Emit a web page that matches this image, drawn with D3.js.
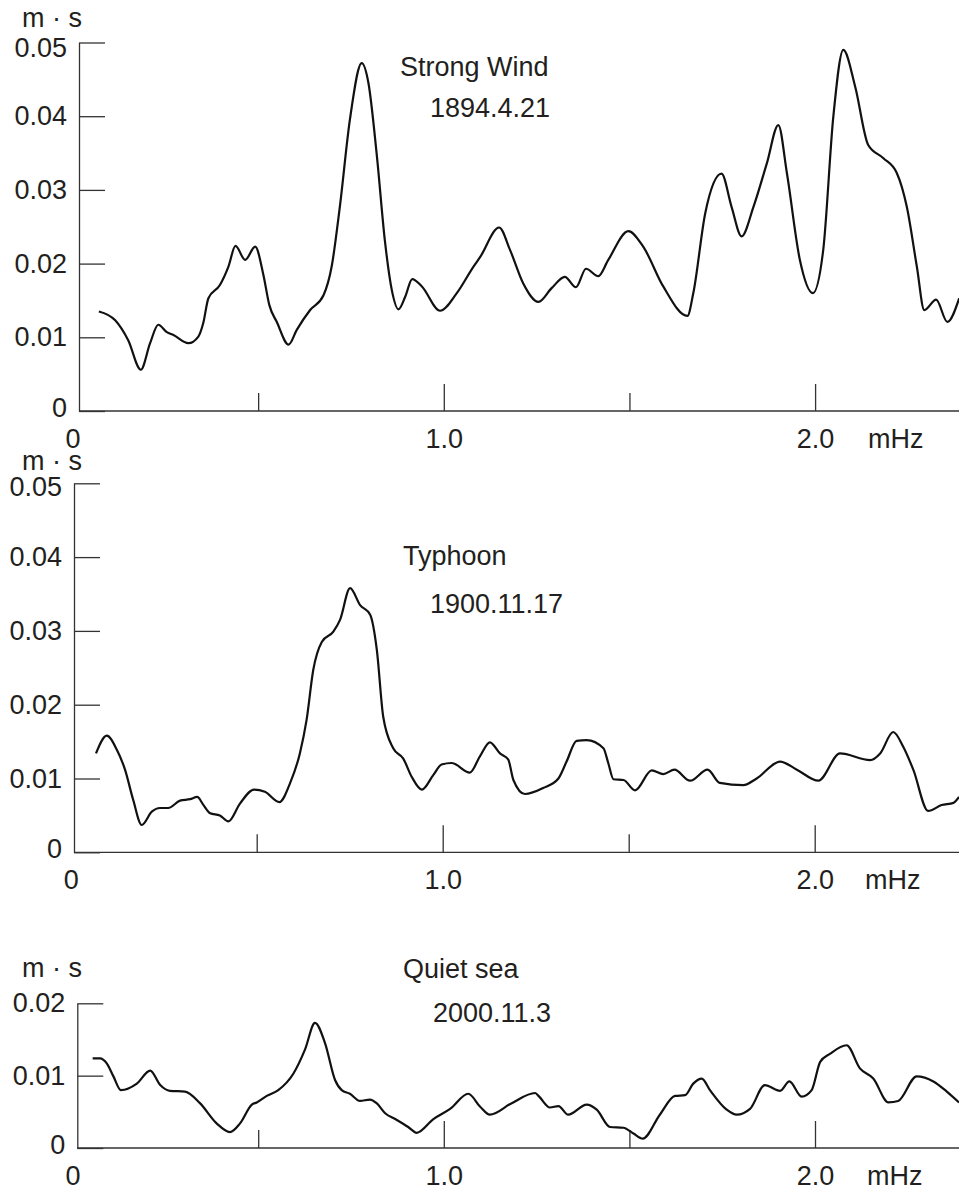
<!DOCTYPE html>
<html>
<head>
<meta charset="utf-8">
<script src="https://cdn.jsdelivr.net/npm/d3@7"></script>
<style>
  body { margin: 0; background: #fff; }
  svg { display: block; }
  text { font-family: "Liberation Sans", Arial, sans-serif; fill: #231f20; }
</style>
</head>
<body>
<div id="chart"></div>
<script>
// ---- data (frequency in mHz, amplitude in m·s) ----
var windFreq = [0.071, 0.115, 0.150, 0.184, 0.209, 0.231, 0.254, 0.272, 0.312, 0.339,
  0.352, 0.366, 0.397, 0.420, 0.439, 0.465, 0.492, 0.514, 0.530, 0.550,
  0.582, 0.604, 0.640, 0.676, 0.698, 0.720, 0.747, 0.779, 0.797, 0.819,
  0.842, 0.860, 0.878, 0.896, 0.915, 0.941, 0.990, 1.035, 1.080, 1.098,
  1.149, 1.178, 1.214, 1.255, 1.291, 1.326, 1.356, 1.383, 1.416, 1.443,
  1.497, 1.537, 1.591, 1.656, 1.672, 1.704, 1.748, 1.775, 1.802, 1.834,
  1.870, 1.901, 1.924, 1.959, 1.994, 2.022, 2.049, 2.076, 2.108, 2.143,
  2.184, 2.220, 2.247, 2.274, 2.294, 2.326, 2.356, 2.388];
var windVal = [0.0135, 0.0123, 0.0096, 0.0056, 0.0092, 0.0117, 0.0107, 0.0103, 0.0092, 0.0101,
  0.0119, 0.0153, 0.0171, 0.0196, 0.0224, 0.0205, 0.0223, 0.0185, 0.0144, 0.0121,
  0.0090, 0.0110, 0.0137, 0.0157, 0.0196, 0.0277, 0.0395, 0.0472, 0.0445, 0.0350,
  0.0228, 0.0164, 0.0138, 0.0155, 0.0179, 0.0169, 0.0136, 0.0160, 0.0196, 0.0209,
  0.0249, 0.0219, 0.0173, 0.0148, 0.0167, 0.0182, 0.0168, 0.0193, 0.0183, 0.0205,
  0.0244, 0.0223, 0.0169, 0.0129, 0.0160, 0.0268, 0.0322, 0.0277, 0.0237, 0.0277,
  0.0336, 0.0388, 0.0323, 0.0205, 0.0160, 0.0219, 0.0399, 0.0490, 0.0440, 0.0361,
  0.0343, 0.0323, 0.0277, 0.0196, 0.0137, 0.0151, 0.0121, 0.0153];

var typhoonFreq = [0.068, 0.097, 0.124, 0.146, 0.168, 0.191, 0.218, 0.240, 0.262, 0.294,
  0.321, 0.340, 0.357, 0.375, 0.401, 0.424, 0.455, 0.493, 0.522, 0.561,
  0.590, 0.616, 0.634, 0.652, 0.675, 0.706, 0.724, 0.751, 0.778, 0.805,
  0.823, 0.840, 0.867, 0.894, 0.917, 0.944, 0.975, 0.997, 1.024, 1.073,
  1.100, 1.127, 1.154, 1.176, 1.190, 1.221, 1.270, 1.311, 1.333, 1.360,
  1.387, 1.432, 1.445, 1.459, 1.486, 1.517, 1.562, 1.593, 1.623, 1.665,
  1.712, 1.745, 1.808, 1.844, 1.907, 1.952, 2.010, 2.068, 2.149, 2.176,
  2.211, 2.238, 2.265, 2.305, 2.341, 2.373, 2.388];
var typhoonVal = [0.0134, 0.0158, 0.0139, 0.0112, 0.0071, 0.0037, 0.0055, 0.0060, 0.0060, 0.0070,
  0.0072, 0.0075, 0.0064, 0.0053, 0.0050, 0.0042, 0.0066, 0.0085, 0.0082, 0.0068,
  0.0094, 0.0134, 0.0179, 0.0247, 0.0285, 0.0299, 0.0315, 0.0358, 0.0335, 0.0322,
  0.0274, 0.0184, 0.0141, 0.0127, 0.0102, 0.0085, 0.0105, 0.0119, 0.0121, 0.0108,
  0.0130, 0.0149, 0.0134, 0.0126, 0.0098, 0.0079, 0.0087, 0.0100, 0.0123, 0.0151,
  0.0152, 0.0141, 0.0121, 0.0099, 0.0098, 0.0084, 0.0111, 0.0106, 0.0112, 0.0097,
  0.0112, 0.0094, 0.0091, 0.0100, 0.0123, 0.0112, 0.0097, 0.0134, 0.0125, 0.0134,
  0.0163, 0.0143, 0.0112, 0.0056, 0.0064, 0.0067, 0.0075];

var quietFreq = [0.054, 0.074, 0.092, 0.110, 0.130, 0.173, 0.209, 0.236, 0.262, 0.303,
  0.343, 0.388, 0.424, 0.451, 0.483, 0.496, 0.523, 0.554, 0.595, 0.626,
  0.653, 0.680, 0.707, 0.725, 0.747, 0.774, 0.801, 0.819, 0.842, 0.869,
  0.904, 0.927, 0.972, 1.017, 1.066, 1.098, 1.124, 1.183, 1.246, 1.257,
  1.286, 1.309, 1.335, 1.385, 1.412, 1.448, 1.484, 1.511, 1.536, 1.582,
  1.623, 1.650, 1.672, 1.695, 1.717, 1.762, 1.789, 1.825, 1.865, 1.906,
  1.931, 1.964, 1.991, 2.014, 2.040, 2.085, 2.121, 2.157, 2.198, 2.224,
  2.274, 2.319, 2.355, 2.388];
var quietVal = [0.0124, 0.0124, 0.0117, 0.0099, 0.0080, 0.0089, 0.0107, 0.0087, 0.0079, 0.0078,
  0.0062, 0.0034, 0.0022, 0.0034, 0.0060, 0.0063, 0.0072, 0.0080, 0.0103, 0.0136,
  0.0173, 0.0145, 0.0094, 0.0080, 0.0075, 0.0065, 0.0067, 0.0062, 0.0048, 0.0040,
  0.0029, 0.0021, 0.0040, 0.0054, 0.0075, 0.0057, 0.0046, 0.0062, 0.0076, 0.0071,
  0.0056, 0.0058, 0.0046, 0.0060, 0.0053, 0.0029, 0.0028, 0.0020, 0.0013, 0.0046,
  0.0072, 0.0073, 0.0089, 0.0096, 0.0080, 0.0053, 0.0046, 0.0054, 0.0087, 0.0079,
  0.0092, 0.0071, 0.0080, 0.0119, 0.0130, 0.0142, 0.0110, 0.0096, 0.0063, 0.0065,
  0.0099, 0.0092, 0.0078, 0.0063];

var bigYTicks = [0, 0.01, 0.02, 0.03, 0.04, 0.05];
var smallYTicks = [0, 0.01, 0.02];
var xTicks = [0, 0.5, 1.0, 1.5, 2.0];
var xTickLabels = ["0", "", "1.0", "", "2.0"];
var titles = ["Strong Wind", "Typhoon", "Quiet sea"];
var dates = ["1894.4.21", "1900.11.17", "2000.11.3"];

var W = 959, H = 1191;
var FONT = 27;

var svg = d3.select("#chart").append("svg").attr("width", W).attr("height", H);
svg.append("rect").attr("width", W).attr("height", H).attr("fill", "#fff");

// layout of each panel
var panels = [
  { freq: windFreq, val: windVal, ticks: bigYTicks, x0: 72.5, k: 371.3, axisX: 79, axisY: 411,
    yTop: 42.5, unitY: 27, titleX: 400, titleY: 76, dateX: 430, dateY: 117, mhzX: 868, topShift: 5 },
  { freq: typhoonFreq, val: typhoonVal, ticks: bigYTicks, x0: 70.7, k: 372, axisX: 74, axisY: 852.3,
    yTop: 483.3, unitY: 470, titleX: 403, titleY: 565, dateX: 430, dateY: 613, mhzX: 865, topShift: 4 },
  { freq: quietFreq, val: quietVal, ticks: smallYTicks, x0: 72.6, k: 371.2, axisX: 77.3, axisY: 1148,
    yTop: 1003.3, unitY: 977, titleX: 403, titleY: 978, dateX: 433, dateY: 1022, mhzX: 867, topShift: 0 }
];

panels.forEach(function (p, i) {
  var g = svg.append("g");

  var x = d3.scaleLinear().domain([0, 2]).range([p.x0, p.x0 + 2 * p.k]);
  var y = d3.scaleLinear().domain([0, d3.max(p.ticks)]).range([p.axisY, p.yTop]);

  /* ------- Y AXIS -------*/
  var yAxis = d3.axisLeft(y)
    .tickValues(p.ticks)
    .tickSizeInner(-26)
    .tickSizeOuter(0)
    .tickPadding(12)
    .tickFormat(function (d) { return d === 0 ? "0" : d.toFixed(2); });

  var ya = g.append("g")
    .attr("transform", "translate(" + p.axisX + ",0)")
    .call(yAxis);
  ya.selectAll("path, line").attr("stroke", "#333").attr("stroke-width", 1.3);
  ya.selectAll("text")
    .attr("font-size", FONT)
    .attr("font-family", "Liberation Sans, Arial, sans-serif")
    .attr("fill", "#231f20")
    .attr("transform", function (d) {
      if (d === 0) return "translate(0,-3)";
      if (d === d3.max(p.ticks)) return "translate(0," + p.topShift + ")";
      return null;
    });

  /* ------- X AXIS -------*/
  var xAxis = d3.axisBottom(x)
    .tickValues(xTicks)
    .tickSizeOuter(0)
    .tickPadding(12)
    .tickFormat(function (d, j) { return xTickLabels[j]; });

  var xa = g.append("g")
    .attr("transform", "translate(0," + p.axisY + ")")
    .call(xAxis);
  xa.select(".domain").remove();
  xa.selectAll(".tick line")
    .attr("y2", function (d) { return d === 0 ? 0 : (d % 1 === 0 ? -27 : -18); })
    .attr("stroke", "#333").attr("stroke-width", 1.3);
  xa.selectAll("text")
    .attr("font-size", FONT)
    .attr("font-family", "Liberation Sans, Arial, sans-serif")
    .attr("fill", "#231f20");

  g.append("line")
    .attr("x1", p.axisX).attr("x2", W)
    .attr("y1", p.axisY).attr("y2", p.axisY)
    .attr("stroke", "#333").attr("stroke-width", 1.3);

  /* ------- LABELS -------*/
  g.append("text").attr("x", 22).attr("y", p.unitY)
    .attr("font-size", FONT).text("m \u00b7 s");
  g.append("text").attr("x", p.mhzX).attr("y", p.axisY + 37)
    .attr("font-size", FONT).text("mHz");
  g.append("text").attr("x", p.titleX).attr("y", p.titleY)
    .attr("font-size", FONT).text(titles[i]);
  g.append("text").attr("x", p.dateX).attr("y", p.dateY)
    .attr("font-size", FONT).text(dates[i]);

  /* ------- SPECTRUM LINE -------*/
  var pts = p.freq.map(function (f, j) { return [f, p.val[j]]; });
  var line = d3.line()
    .x(function (d) { return x(d[0]); })
    .y(function (d) { return y(d[1]); })
    .curve(d3.curveMonotoneX);

  g.append("path")
    .datum(pts)
    .attr("d", line)
    .attr("fill", "none")
    .attr("stroke", "#111")
    .attr("stroke-width", 2.2)
    .attr("stroke-linejoin", "round");
});
</script>
</body>
</html>
